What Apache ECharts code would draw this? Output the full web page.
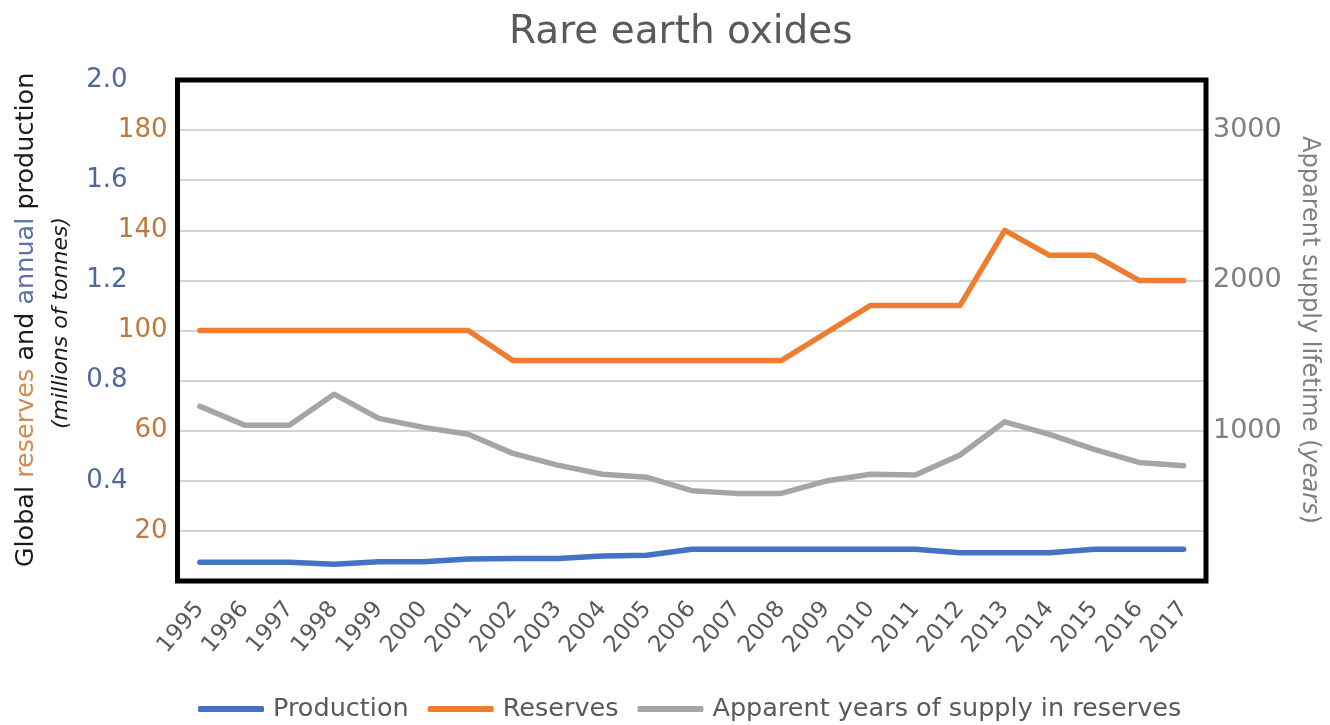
<!DOCTYPE html>
<html>
<head>
<meta charset="utf-8">
<script src="https://cdn.jsdelivr.net/npm/echarts@6/dist/echarts.min.js"></script>
<style>
  html, body { margin: 0; padding: 0; background: #fff; }
  #chart { width: 1330px; height: 725px; }
</style>
</head>
<body>
<div id="chart"></div>
<script>
// Rare earth oxides: global production, reserves and apparent supply lifetime
const years = ['1995','1996','1997','1998','1999','2000','2001','2002','2003','2004','2005',
  '2006','2007','2008','2009','2010','2011','2012','2013','2014','2015','2016','2017'];

// millions of tonnes
const production = [0.075, 0.075, 0.075, 0.067, 0.077, 0.077, 0.088, 0.09, 0.09, 0.1, 0.103,
  0.127, 0.127, 0.127, 0.127, 0.127, 0.127, 0.113, 0.113, 0.113, 0.127, 0.127, 0.127];

// millions of tonnes
const reserves = [100, 100, 100, 100, 100, 100, 100, 88, 88, 88, 88,
  88, 88, 88, 99, 110, 110, 110, 140, 130, 130, 120, 120];

// years
const supplyYears = [1163, 1037, 1037, 1243, 1082, 1022, 977, 849, 771, 710, 690,
  601, 583, 583, 665, 710, 705, 838, 1059, 975, 876, 789, 767];

// labelled ticks on each value axis
const productionTicks = [0.4, 0.8, 1.2, 1.6, 2.0];
const reserveTicks = [20, 60, 100, 140, 180];
const yearTicks = [1000, 2000, 3000];

const FONT = 'DejaVu Sans';
const BLUE = '#4472c4', ORANGE = '#ed7d31', GREY = '#a5a5a5';
const BLUE_TXT = '#52669e', ORANGE_TXT = '#c0783c', GREY_TXT = '#7f7f7f';

// plot frame (pixels)
const PLOT = { left: 177.5, top: 80, width: 1028.5, height: 501 };

function pick(ticks, digits) {
  return function (v) {
    const hit = ticks.find(t => Math.abs(t - v) < 1e-6 * Math.max(1, t));
    return hit === undefined ? '' : (digits ? hit.toFixed(digits) : String(hit));
  };
}

const chart = echarts.init(document.getElementById('chart'));

chart.setOption({
  animation: false,
  textStyle: { fontFamily: FONT },
  title: {
    text: 'Rare earth oxides',
    left: 504, top: 8,
    textStyle: { fontFamily: FONT, fontSize: 39, fontWeight: 'normal', color: '#595959' }
  },
  grid: {
    left: PLOT.left, top: PLOT.top,
    right: 1330 - PLOT.left - PLOT.width, bottom: 725 - PLOT.top - PLOT.height,
    show: false
  },
  legend: {
    left: 198, top: 696, padding: 0,
    icon: 'roundRect', itemWidth: 66, itemHeight: 6, itemGap: 19,
    textStyle: { fontFamily: FONT, fontSize: 25.5, color: '#595959', padding: [0, 0, 0, 4] },
    data: ['Production', 'Reserves', 'Apparent years of supply in reserves']
  },
  xAxis: {
    type: 'category',
    data: years,
    axisLine: { show: false },
    axisTick: { show: false },
    axisLabel: { rotate: 50, interval: 0, margin: 24, fontSize: 23, color: '#595959', fontFamily: FONT }
  },
  yAxis: [
    {
      type: 'value', position: 'left', min: 0, max: 2, interval: 0.2,
      axisLine: { show: false }, axisTick: { show: false }, splitLine: { show: false },
      axisLabel: { margin: 50, fontSize: 26, color: BLUE_TXT, fontFamily: FONT, formatter: pick(productionTicks, 1) }
    },
    {
      type: 'value', position: 'left', min: 0, max: 200, interval: 20,
      axisLine: { show: false }, axisTick: { show: false },
      splitLine: { show: true, lineStyle: { color: '#d3d3d3', width: 2 } },
      axisLabel: { margin: 10, fontSize: 26, color: ORANGE_TXT, fontFamily: FONT, formatter: pick(reserveTicks, 0) }
    },
    {
      type: 'value', position: 'right', min: 0, max: 10000 / 3, interval: 1000 / 3,
      axisLine: { show: false }, axisTick: { show: false }, splitLine: { show: false },
      axisLabel: { margin: 7, fontSize: 27, color: GREY_TXT, fontFamily: FONT, formatter: pick(yearTicks, 0) }
    }
  ],
  series: [
    {
      name: 'Production', type: 'line', yAxisIndex: 0, data: production,
      symbol: 'none', color: BLUE, lineStyle: { width: 5.5, color: BLUE, cap: 'round', join: 'round' }
    },
    {
      name: 'Reserves', type: 'line', yAxisIndex: 1, data: reserves,
      symbol: 'none', color: ORANGE, lineStyle: { width: 5.5, color: ORANGE, cap: 'round', join: 'round' }
    },
    {
      name: 'Apparent years of supply in reserves', type: 'line', yAxisIndex: 2, data: supplyYears,
      symbol: 'none', color: GREY, lineStyle: { width: 5.5, color: GREY, cap: 'round', join: 'round' }
    }
  ],
  graphic: [
    {
      // heavy black frame round the plot area
      type: 'rect', z: 100, silent: true,
      shape: { x: PLOT.left, y: PLOT.top, width: PLOT.width, height: PLOT.height },
      style: { fill: 'none', stroke: '#000', lineWidth: 5 }
    },
    {
      type: 'text', x: 26, y: 320, rotation: Math.PI / 2,
      style: {
        text: '{k|Global }{r|reserves}{k| and }{b|annual}{k| production}',
        align: 'center', verticalAlign: 'middle',
        rich: {
          k: { fontFamily: FONT, fontSize: 25.5, fill: '#1a1a1a' },
          r: { fontFamily: FONT, fontSize: 25.5, fill: '#d08a50' },
          b: { fontFamily: FONT, fontSize: 25.5, fill: '#5b70ab' }
        }
      }
    },
    {
      type: 'text', x: 61, y: 323, rotation: Math.PI / 2,
      style: {
        text: '(millions of tonnes)',
        align: 'center', verticalAlign: 'middle',
        font: 'italic 22px "DejaVu Sans"', fill: '#1a1a1a'
      }
    },
    {
      type: 'text', x: 1309, y: 330, rotation: -Math.PI / 2,
      style: {
        text: '{g|Apparent supply lifetime (}{i|years}{g|)}',
        align: 'center', verticalAlign: 'middle',
        rich: {
          g: { fontFamily: FONT, fontSize: 24, fill: GREY_TXT },
          i: { fontFamily: FONT, fontSize: 24, fontStyle: 'italic', fill: GREY_TXT }
        }
      }
    }
  ]
});
</script>
</body>
</html>
